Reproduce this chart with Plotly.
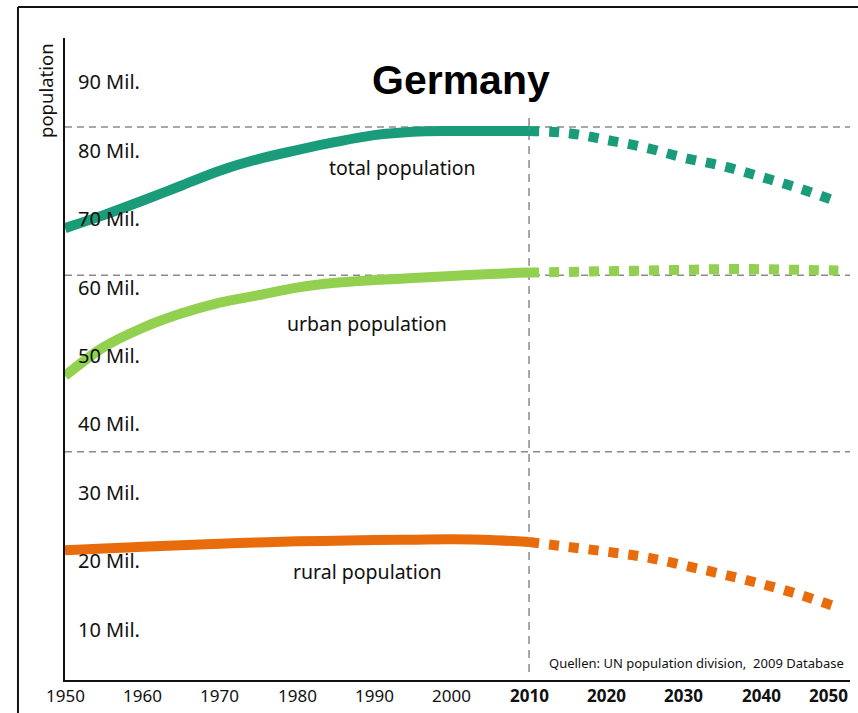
import plotly.graph_objects as go

# Germany population, millions (UN population division, 2009 revision)
years_hist = [1950, 1955, 1960, 1965, 1970, 1975, 1980, 1985, 1990, 1995, 2000, 2005, 2010]
years_proj = [2010, 2015, 2020, 2025, 2030, 2035, 2040, 2045, 2050]

total_hist = [68.7, 70.6, 72.7, 74.9, 77.1, 78.8, 80.1, 81.3, 82.3, 82.8, 82.9, 82.9, 82.9]
urban_hist = [47.1, 51.3, 54.1, 56.2, 57.8, 58.9, 60.0, 60.7, 61.1, 61.4, 61.7, 62.0, 62.2]
rural_hist = [21.6, 21.85, 22.1, 22.35, 22.55, 22.75, 22.9, 23.0, 23.1, 23.15, 23.2, 23.1, 22.8]

total_proj = [82.9, 82.6, 81.6, 80.5, 79.0, 77.8, 76.2, 74.5, 72.5]
urban_proj = [62.2, 62.3, 62.4, 62.5, 62.6, 62.7, 62.7, 62.6, 62.5]
rural_proj = [22.8, 22.1, 21.4, 20.6, 19.4, 18.1, 16.7, 15.1, 13.2]

x_ticks = [1950, 1960, 1970, 1980, 1990, 2000, 2010, 2020, 2030, 2040, 2050]
y_ticks = [10, 20, 30, 40, 50, 60, 70, 80, 90]
y_tick_text = [f"{v} Mil." for v in y_ticks]

series = [
    ("total population", total_hist, total_proj, "#1A9C7B", 1993.7, 77.5),
    ("urban population", urban_hist, urban_proj, "#92D050", 1989.1, 54.8),
    ("rural population", rural_hist, rural_proj, "#E96C0C", 1989.1, 18.5),
]

# decorative reference lines (values in millions)
ref_levels = [83.5, 61.8, 36.0]

X_MAX = 2051.5

fig = go.Figure()

for name, hist, proj, color, lx, ly in series:
    fig.add_trace(go.Scatter(
        x=years_proj, y=proj, mode="lines",
        line=dict(color=color, width=10, dash="dot", shape="spline"),
        hoverinfo="skip", showlegend=False,
    ))
    fig.add_trace(go.Scatter(
        x=years_hist, y=hist, mode="lines", name=name,
        line=dict(color=color, width=10, shape="spline"),
        showlegend=False,
    ))
    fig.add_annotation(
        x=lx, y=ly, text=name, showarrow=False,
        font=dict(family="Noto Sans", size=19.5, color="#111111"),
    )

for lvl in ref_levels:
    fig.add_shape(
        type="line", xref="paper", yref="y", x0=0, x1=1, y0=lvl, y1=lvl,
        line=dict(color="#8a8a8a", width=1.5, dash="7px,5px"), layer="below",
    )

# boundary between observed data and projections
fig.add_shape(
    type="line", xref="x", yref="y", x0=2010, x1=2010, y0=3.8, y1=85.2,
    line=dict(color="#8a8a8a", width=1.5, dash="8px,6px"), layer="below",
)

# frame around the figure (top and left edges)
fig.add_shape(type="line", xref="paper", yref="paper", x0=-0.0599, x1=1.02,
              y0=1.0483, y1=1.0483, line=dict(color="#111111", width=2))
fig.add_shape(type="line", xref="paper", yref="paper", x0=-0.0599, x1=-0.0599,
              y0=1.0483, y1=-0.06, line=dict(color="#111111", width=2))

# year labels along the time axis (projection decades in bold)
for yr in x_ticks:
    label = f"<b>{yr}</b>" if yr >= 2010 else str(yr)
    last = yr == x_ticks[-1]
    fig.add_annotation(
        x=X_MAX if last else yr, y=-0.0249, xref="x", yref="paper",
        xanchor="right" if last else "center", yanchor="middle",
        text=label, showarrow=False,
        font=dict(family="Noto Sans", size=17, color="#111111"),
    )

fig.add_annotation(
    x=0.5045, y=0.9346, xref="paper", yref="paper", text="<b>Germany</b>",
    xanchor="center", yanchor="middle", showarrow=False,
    font=dict(family="Liberation Sans", size=41, color="#000000"),
)
fig.add_annotation(
    x=-0.0255, y=0.919, xref="paper", yref="paper", text="population",
    xanchor="center", yanchor="middle", textangle=-90, showarrow=False,
    font=dict(family="Noto Sans", size=18.5, color="#111111"),
)
fig.add_annotation(
    x=0.995, y=0.0265, xref="paper", yref="paper", xanchor="right", yanchor="middle",
    text="Quellen: UN population division,  2009 Database", showarrow=False,
    font=dict(family="Noto Sans", size=13, color="#111111"),
)

fig.update_layout(
    width=858, height=713,
    margin=dict(l=65, r=8, t=38, b=33),
    paper_bgcolor="white", plot_bgcolor="white",
    xaxis=dict(
        range=[1950, X_MAX], showticklabels=False,
        showgrid=False, zeroline=False, showline=True, linecolor="#111111",
        linewidth=2, ticks="",
    ),
    yaxis=dict(
        range=[2.63, 96.5], tickvals=y_ticks, ticktext=y_tick_text,
        ticklabelposition="inside", ticklabelstandoff=14,
        showgrid=False, zeroline=False, showline=True, linecolor="#111111",
        linewidth=2, ticks="", tickfont=dict(family="Noto Sans", size=20, color="#111111"),
    ),
)

fig.write_html("out.html")
